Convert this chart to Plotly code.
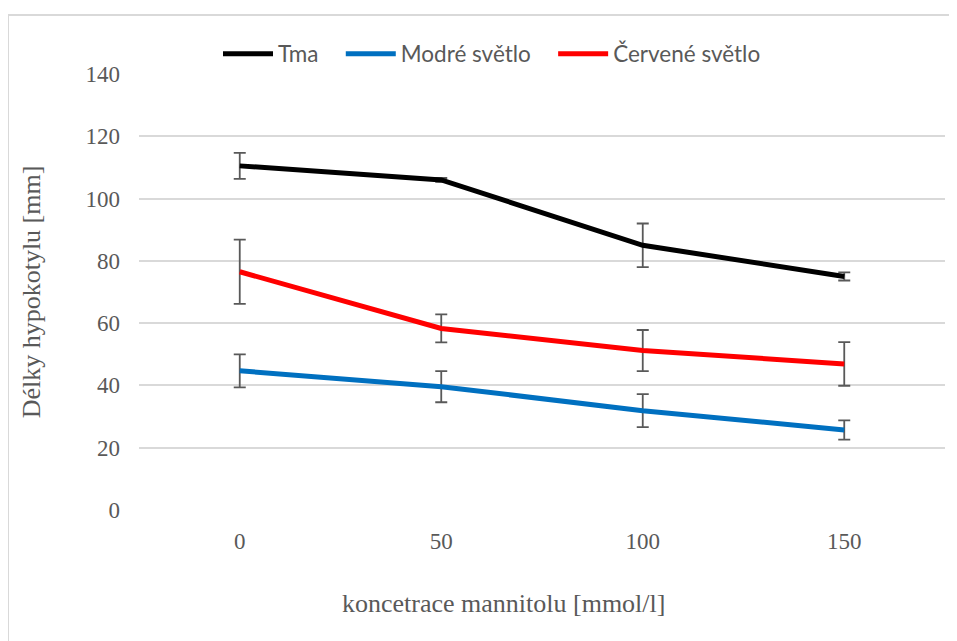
import plotly.graph_objects as go

# Data
concentrations = ["0", "50", "100", "150"]

tma = [110.5, 106.0, 85.0, 75.0]
tma_err = [4.2, 0.6, 7.0, 1.3]

modre = [44.7, 39.6, 31.9, 25.7]
modre_err = [5.3, 5.0, 5.3, 3.1]

cervene = [76.5, 58.3, 51.2, 46.9]
cervene_err = [10.3, 4.5, 6.6, 7.0]

y_ticks = [0, 20, 40, 60, 80, 100, 120, 140]

COLORS = {
    'tma': '#000000',
    'modre': '#0070C0',
    'cervene': '#FF0000',
    'err': '#595959',
    'grid': '#d9d9d9',
    'text': '#595959',
}

SERIF = "Liberation Serif, Times New Roman, serif"
SANS = "Lato, Open Sans, sans-serif"

# plot area in pixels (page adds 8px offset)
L, R, T, B = 131, 20, 66, 139
PW, PH = 957 - L - R, 641 - T - B

# extra space between legend entries
GAP = "\u00a0" * 3

fig = go.Figure()

series = [
    ("Tma" + GAP, tma, tma_err, COLORS['tma']),
    ("Modré světlo" + GAP, modre, modre_err, COLORS['modre']),
    ("Červené světlo", cervene, cervene_err, COLORS['cervene']),
]

for name, vals, errs, color in series:
    fig.add_trace(
        go.Scatter(
            x=concentrations,
            y=vals,
            name=name,
            mode='lines',
            line=dict(color=color, width=5),
            error_y=dict(
                type='data',
                array=errs,
                visible=True,
                color=COLORS['err'],
                thickness=1.8,
                width=6
            )
        )
    )

fig.update_layout(
    width=957,
    height=641,
    margin=dict(l=L, r=R, t=T, b=B),
    plot_bgcolor='white',
    paper_bgcolor='white',
    showlegend=True,
    legend=dict(
        orientation='h',
        x=(484 - L) / PW,
        xanchor='center',
        y=1 + 20 / PH,
        yanchor='middle',
        font=dict(family=SANS, size=22.5, color=COLORS['text']),
        itemwidth=50,
        tracegroupgap=0,
    ),
    font=dict(family=SERIF, size=22, color=COLORS['text']),
    shapes=[
        dict(
            type='rect', xref='paper', yref='paper',
            x0=-L / PW, x1=1.05, y0=-0.4, y1=1 + (T - 7) / PH,
            line=dict(color=COLORS['grid'], width=2),
            layer='below'
        )
    ],
    annotations=[
        dict(
            text="koncetrace mannitolu [mmol/l]",
            xref='paper', yref='paper',
            x=(495 - L) / PW, y=-(595 - (T + PH)) / PH,
            xanchor='center', yanchor='middle',
            showarrow=False,
            font=dict(family=SERIF, size=26, color=COLORS['text'])
        )
    ]
)

fig.update_xaxes(
    type='category',
    range=[-0.5, 3.5],
    showgrid=False,
    showline=False,
    zeroline=False,
    ticks='',
    tickfont=dict(family=SERIF, size=23, color=COLORS['text']),
    ticklabelstandoff=15,
)

fig.update_yaxes(
    range=[0, 140],
    tickvals=y_ticks,
    showgrid=True,
    gridcolor=COLORS['grid'],
    gridwidth=1.5,
    zeroline=False,
    showline=False,
    ticks='',
    tickfont=dict(family=SERIF, size=23, color=COLORS['text']),
    ticklabelstandoff=18,
    title=dict(
        text="Délky hypokotylu [mm]",
        font=dict(family=SERIF, size=26, color=COLORS['text']),
        standoff=37
    )
)

fig.write_html("out.html")
